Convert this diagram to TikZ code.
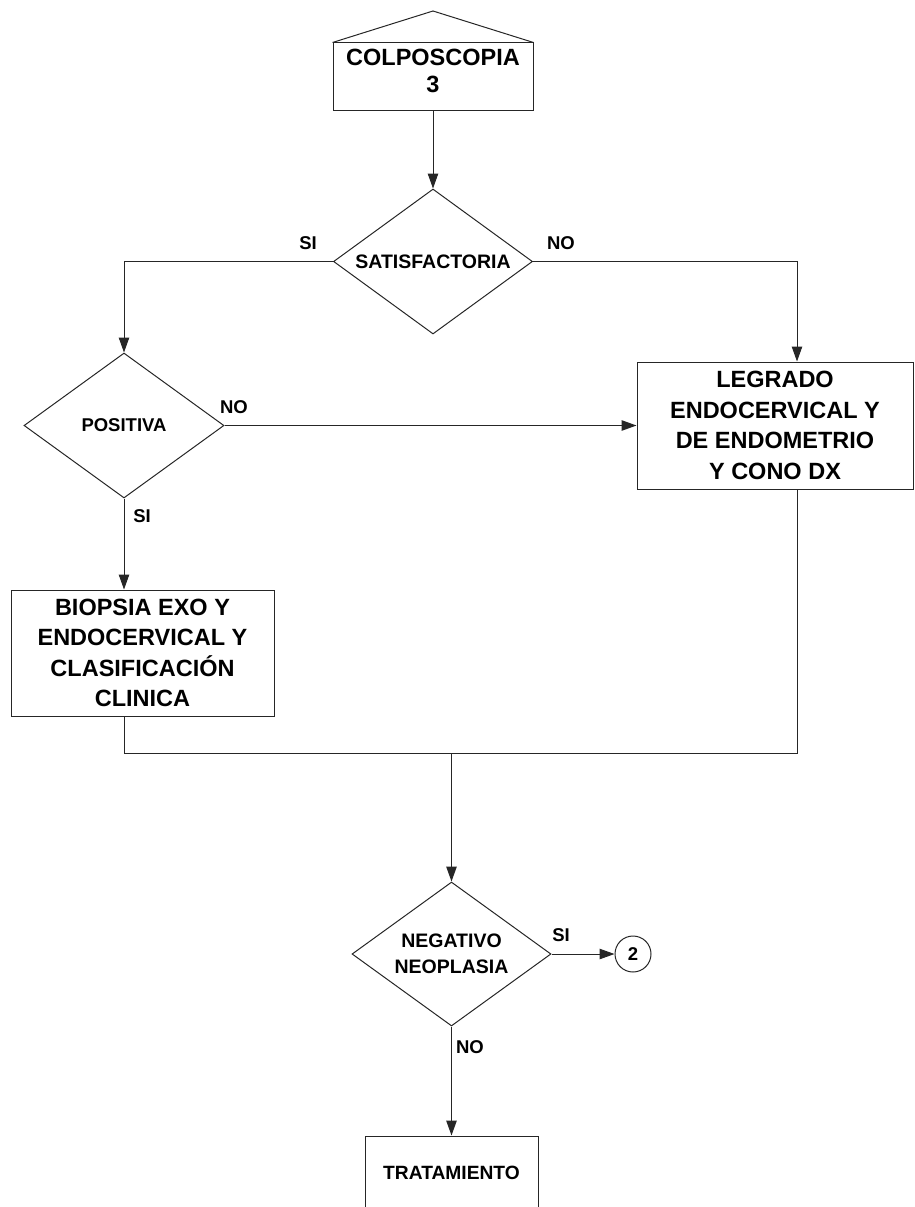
\documentclass[tikz,border=0pt]{standalone}
\usepackage{fontspec}
\setmainfont{Liberation Sans}
\usetikzlibrary{shapes.geometric,arrows.meta}
\tikzset{
  ln/.style={line width=1pt, draw=black!85},
  arr/.style={ln, -{Triangle[length=15pt,width=10.5pt]}},
  boxnode/.style={ln, rectangle, inner sep=0pt, align=center, font=\bfseries\fontsize{23.5}{30.5}\selectfont},
  dia/.style={ln, diamond, inner sep=0pt, shape aspect=1.38},
  diatxt/.style={align=center, font=\bfseries\fontsize{19.5}{25.5}\selectfont},
  lbl/.style={inner sep=0pt, font=\bfseries\fontsize{18.5}{22}\selectfont},
}
\begin{document}
\begin{tikzpicture}[x=1pt,y=-1pt]
\useasboundingbox (0,0) rectangle (914,1207);
\clip (0,0) rectangle (914,1207);
% pentagon
\node[ln, rectangle, minimum width=200pt, minimum height=67pt, inner sep=0pt] (colpo) at (433,76.5) {};
\draw[ln, line join=miter] (colpo.north west) -- (433,11) -- (colpo.north east);
\node[align=center, inner sep=0pt, font=\bfseries\fontsize{23.5}{27}\selectfont] (colpotxt) at (433,70.5) {COLPOSCOPIA\\3};
% diamonds
\node[dia, minimum width=199pt, minimum height=145pt, label={[diatxt]center:SATISFACTORIA}] (sat) at (433,261.5) {};
\node[dia, minimum width=200pt, minimum height=145pt, label={[diatxt, font=\bfseries\fontsize{18.5}{24}\selectfont]center:POSITIVA}] (pos) at (124,425.5) {};
\node[dia, minimum width=199pt, minimum height=144pt, label={[diatxt]center:NEGATIVO\\NEOPLASIA}] (neg) at (451.5,954) {};
% boxes
\node[boxnode, minimum width=276pt, minimum height=127pt] (legr) at (775,425.5) {LEGRADO\\ENDOCERVICAL Y\\DE ENDOMETRIO\\Y CONO DX};
\node[boxnode, minimum width=263pt, minimum height=126pt] (biop) at (142.5,653) {BIOPSIA EXO Y\\ENDOCERVICAL Y\\CLASIFICACIÓN\\CLINICA};
\node[boxnode, minimum width=173pt, minimum height=74pt, font=\bfseries\fontsize{19.2}{24}\selectfont] (trat) at (451.5,1173) {TRATAMIENTO};
\node[ln, circle, minimum size=36pt, inner sep=0pt, font=\bfseries\fontsize{18.5}{22}\selectfont] (c2) at (633,954) {2};
% connectors
\coordinate (colpoB) at (colpo.south);
\coordinate (j) at (451.5,753);
\draw[arr] (colpoB) -- (sat.north);
\draw[arr] (sat.west) -| (pos.north);
\draw[arr] (sat.east) -| ([xshift=22pt]legr.north);
\draw[arr] (pos.east) -- (legr.west);
\draw[arr] (pos.south) -- (pos.south |- biop.north);
\draw[ln] (pos.south |- biop.south) |- (j);
\draw[ln] ([xshift=22pt]legr.south) |- (j);
\draw[arr] (j) -- (neg.north);
\draw[arr] (neg.east) -- (c2.west);
\draw[arr] (neg.south) -- (trat.north);
% labels
\node[lbl] (l1) at (308,243) {SI};
\node[lbl] (l2) at (561,243) {NO};
\node[lbl] (l3) at (234,407) {NO};
\node[lbl] (l4) at (142,516) {SI};
\node[lbl] (l5) at (561,935) {SI};
\node[lbl] (l6) at (470,1047) {NO};
\end{tikzpicture}
\end{document}
